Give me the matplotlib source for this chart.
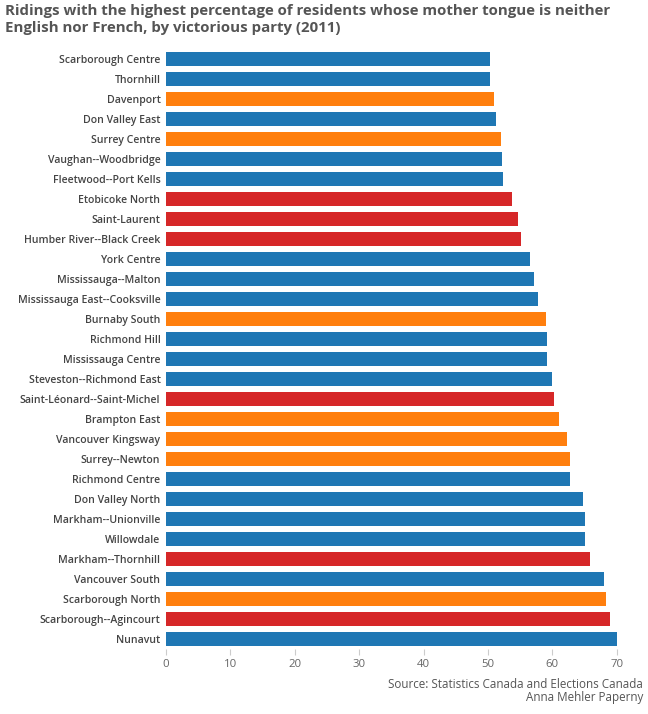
import matplotlib
matplotlib.use("Agg")
import matplotlib.pyplot as plt

ridings = [
    "Scarborough Centre", "Thornhill", "Davenport", "Don Valley East", "Surrey Centre",
    "Vaughan--Woodbridge", "Fleetwood--Port Kells", "Etobicoke North", "Saint-Laurent",
    "Humber River--Black Creek", "York Centre", "Mississauga--Malton",
    "Mississauga East--Cooksville", "Burnaby South", "Richmond Hill", "Mississauga Centre",
    "Steveston--Richmond East", "Saint-Léonard--Saint-Michel", "Brampton East",
    "Vancouver Kingsway", "Surrey--Newton", "Richmond Centre", "Don Valley North",
    "Markham--Unionville", "Willowdale", "Markham--Thornhill", "Vancouver South",
    "Scarborough North", "Scarborough--Agincourt", "Nunavut",
]
values = [
    50.3, 50.25, 51.0, 51.3, 52.0, 52.1, 52.4, 53.7, 54.6, 55.2,
    56.5, 57.1, 57.7, 59.0, 59.1, 59.1, 60.0, 60.2, 61.0, 62.2,
    62.7, 62.8, 64.7, 65.1, 65.1, 65.8, 68.0, 68.3, 69.0, 70.0,
]
parties = [
    "CPC", "CPC", "NDP", "CPC", "NDP", "CPC", "CPC", "LPC", "LPC", "LPC",
    "CPC", "CPC", "CPC", "NDP", "CPC", "CPC", "CPC", "LPC", "NDP", "NDP",
    "NDP", "CPC", "CPC", "CPC", "CPC", "LPC", "CPC", "NDP", "LPC", "CPC",
]
party_colors = {"CPC": "#1f77b4", "NDP": "#ff7f0e", "LPC": "#d62728"}
xticks = [0, 10, 20, 30, 40, 50, 60, 70]

W, H = 648, 714
fig = plt.figure(figsize=(W / 100, H / 100), dpi=100)
left, right = 166 / W, (166 + 72 * 6.44) / W
top, bottom = 1 - 49 / H, 1 - 649 / H
ax = fig.add_axes([left, bottom, right - left, top - bottom])

ypos = list(range(len(ridings)))
ax.barh(ypos, values, height=0.73, color=[party_colors[p] for p in parties])
ax.set_ylim(len(ridings) - 0.5, -0.5)
ax.set_xlim(0, 72)
ax.set_yticks(ypos)
ax.set_yticklabels(ridings, fontsize=7.6, color="#444444", fontfamily="Open Sans",
                   fontweight="semibold")
ax.set_xticks(xticks)
ax.set_xticklabels([str(t) for t in xticks], fontsize=8.2, color="#666666",
                   fontfamily="Open Sans")
ax.tick_params(axis="y", length=0, pad=4)
ax.tick_params(axis="x", length=4, color="#cccccc", pad=3)
for s in ax.spines.values():
    s.set_visible(False)

fig.text(5 / W, 1 - 4 / H,
         "Ridings with the highest percentage of residents whose mother tongue is neither\n"
         "English nor French, by victorious party (2011)",
         ha="left", va="top", fontsize=10.8, fontweight="bold", color="#555555",
         fontfamily="Open Sans", linespacing=1.25)
fig.text(643 / W, 1 - 684 / H, "Source: Statistics Canada and Elections Canada",
         ha="right", va="center", fontsize=8.4, color="#555555", fontfamily="Open Sans")
fig.text(643 / W, 1 - 698 / H, "Anna Mehler Paperny",
         ha="right", va="center", fontsize=8.4, color="#555555", fontfamily="Open Sans")

fig.savefig("out.png", dpi=100)
